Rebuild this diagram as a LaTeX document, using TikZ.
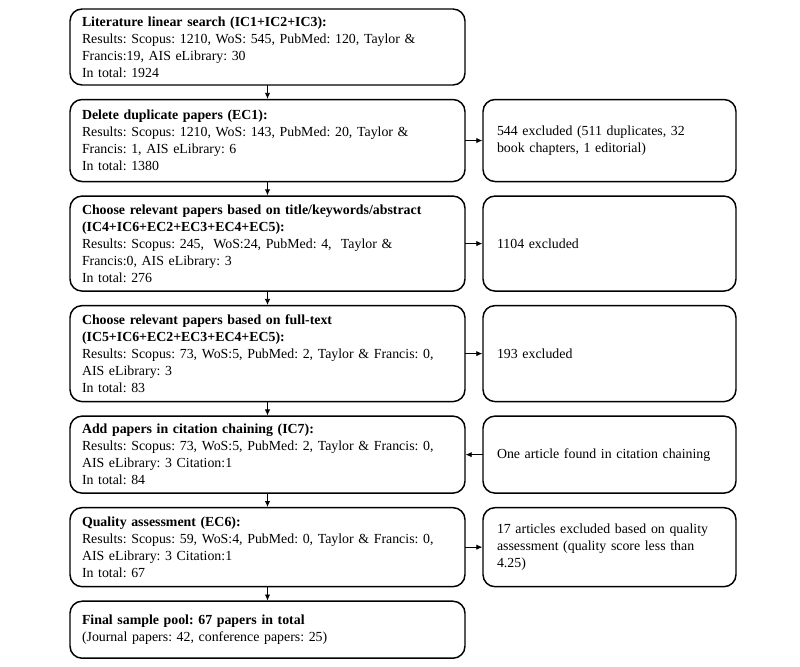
\documentclass[tikz,border=0pt]{standalone}
\usepackage{fontspec}
\setmainfont{Liberation Serif}
\frenchspacing
\usetikzlibrary{positioning}
\usetikzlibrary{arrows.meta}

\begin{document}
\begin{tikzpicture}[
  node distance=10.9pt,
  every node/.style={font=\fontsize{10.4pt}{12.75pt}\selectfont},
  stagebox/.style={draw, line width=1.1pt, rounded corners=9pt, align=left, outer sep=0pt,
    text width=278.25pt, inner xsep=9pt, inner ysep=2pt},
  sidebox/.style={draw, line width=1.1pt, rounded corners=9pt, align=left, outer sep=0pt,
    text width=168.75pt, inner xsep=10.5pt, inner ysep=2pt},
  flow/.style={line width=0.6pt, -{Latex[length=4.5pt,width=4pt]}, shorten >=0.5pt}
]
\useasboundingbox (0,0) rectangle (600pt,-500.25pt);

% main column
\node[stagebox, minimum height=57pt, anchor=north west] (search) at (52.5pt,-6.75pt)
 {\textbf{Literature linear search (IC1+IC2+IC3):}\\
  Results: Scopus: 1210, WoS: 545, PubMed: 120, Taylor \&\\
  Francis:19, AIS eLibrary: 30\\
  In total: 1924};
\node[stagebox, minimum height=61.5pt, below=of search] (dupl)
 {\textbf{Delete duplicate papers (EC1):}\\
  Results: Scopus: 1210, WoS: 143, PubMed: 20, Taylor \&\\
  Francis: 1, AIS eLibrary: 6\\
  In total: 1380};
\node[stagebox, minimum height=71.25pt, below=of dupl] (title)
 {\textbf{Choose relevant papers based on title/keywords/abstract}\\
  \textbf{(IC4+IC6+EC2+EC3+EC4+EC5):}\\
  Results: Scopus: 245,\ \ WoS:24, PubMed: 4,\ \ Taylor \&\\
  Francis:0, AIS eLibrary: 3\\
  In total: 276};
\node[stagebox, minimum height=72pt, below=of title] (fulltext)
 {\textbf{Choose relevant papers based on full-text}\\
  \textbf{(IC5+IC6+EC2+EC3+EC4+EC5):}\\
  Results: Scopus: 73, WoS:5, PubMed: 2, Taylor \& Francis: 0,\\
  AIS eLibrary: 3\\
  In total: 83};
\node[stagebox, minimum height=57.75pt, below=of fulltext] (chain)
 {\textbf{Add papers in citation chaining (IC7):}\\
  Results: Scopus: 73, WoS:5, PubMed: 2, Taylor \& Francis: 0,\\
  AIS eLibrary: 3 Citation:1\\
  In total: 84};
\node[stagebox, minimum height=59.25pt, below=of chain] (quality)
 {\textbf{Quality assessment (EC6):}\\
  Results: Scopus: 59, WoS:4, PubMed: 0, Taylor \& Francis: 0,\\
  AIS eLibrary: 3 Citation:1\\
  In total: 67};
\node[stagebox, minimum height=42.75pt, below=of quality] (final)
 {\textbf{Final sample pool: 67 papers in total}\\
  (Journal papers: 42, conference papers: 25)};

% side column
\node[sidebox, minimum height=61.5pt, right=13.5pt of dupl] (exdupl)
 {544 excluded (511 duplicates, 32\\ book chapters, 1 editorial)};
\node[sidebox, minimum height=71.25pt, right=13.5pt of title] (extitle)
 {1104 excluded};
\node[sidebox, minimum height=72pt, right=13.5pt of fulltext] (exfull)
 {193 excluded};
\node[sidebox, minimum height=57.75pt, right=13.5pt of chain] (found)
 {One article found in citation chaining};
\node[sidebox, minimum height=59.25pt, right=13.5pt of quality] (exquality)
 {17 articles excluded based on quality\\ assessment (quality score less than\\ 4.25)};

% arrows
\foreach \a/\b in {search/dupl, dupl/title, title/fulltext, fulltext/chain, chain/quality, quality/final}
 \draw[flow] (\a.south) -- (\b.north);
\foreach \a/\b in {dupl/exdupl, title/extitle, fulltext/exfull, quality/exquality}
 \draw[flow] (\a.east) -- (\b.west);
\draw[flow] (found.west) -- (chain.east);
\end{tikzpicture}
\end{document}
